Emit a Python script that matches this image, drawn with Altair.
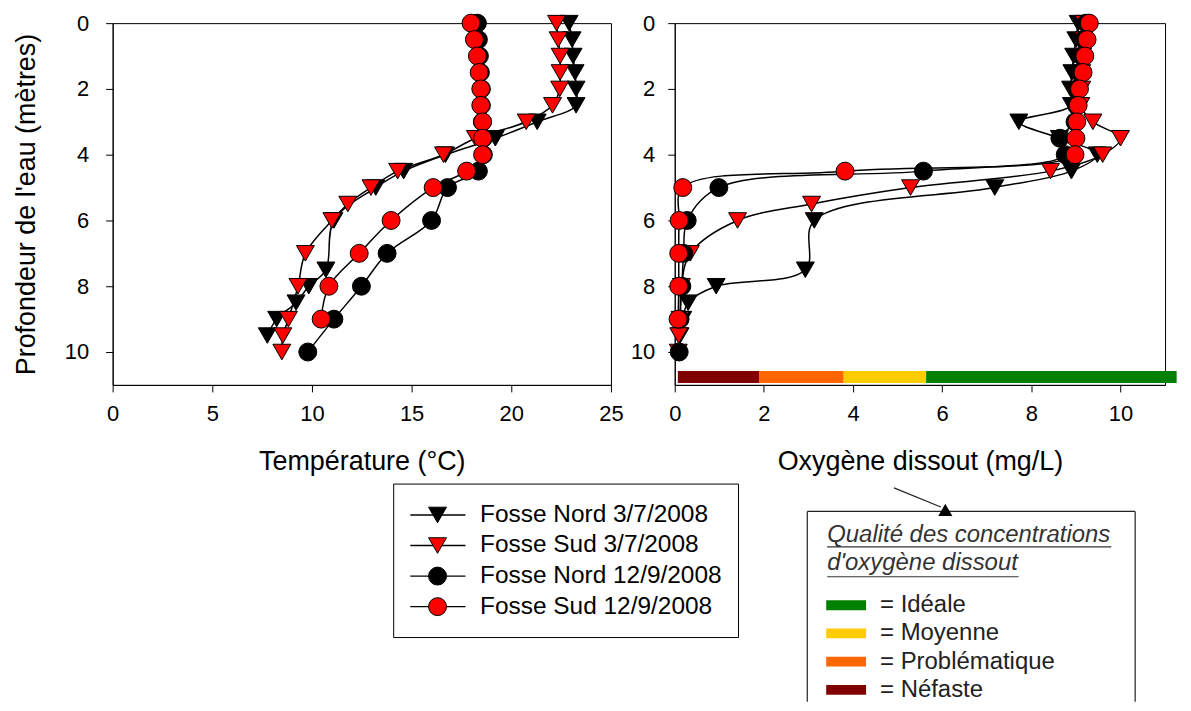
import altair as alt
import pandas as pd

# ---------------- data ----------------
series = ["Fosse Nord 3/7/2008", "Fosse Sud 3/7/2008",
          "Fosse Nord 12/9/2008", "Fosse Sud 12/9/2008"]
shapes = ["triangle-down", "triangle-down", "circle", "circle"]
fills = ["#000000", "#ff0000", "#000000", "#ff0000"]
sizes = [324, 324, 289, 289]

depth_nord_0307 = [0, 0.5, 1, 1.5, 2, 2.5, 3, 3.5, 4, 4.5, 5, 6, 7.5, 8, 8.5, 9, 9.5]
temp_nord_0307 = [22.9, 23.05, 23.1, 23.2, 23.25, 23.25, 21.3, 19.2, 16.7, 14.6, 13.2,
                  11.1, 10.7, 9.84, 9.2, 8.23, 7.76]
o2_nord_0307 = [9.05, 9.0, 8.95, 8.91, 8.88, 8.9, 7.72, 8.63, 9.48, 8.9, 7.18,
                3.13, 2.93, 0.93, 0.30, 0.18, 0.12]

depth_sud_0307 = [0, 0.5, 1, 1.5, 2, 2.5, 3, 3.5, 4, 4.5, 5, 5.5, 6, 7, 8, 9, 9.5, 10]
temp_sud_0307 = [22.27, 22.35, 22.45, 22.45, 22.43, 22.07, 20.75, 18.2, 16.6, 14.3, 12.96,
                 11.8, 11.0, 9.67, 9.3, 8.82, 8.54, 8.49]
o2_sud_0307 = [9.18, 9.18, 9.15, 9.13, 9.13, 9.11, 9.38, 10.0, 9.6, 8.43, 5.29,
               3.07, 1.41, 0.35, 0.15, 0.12, 0.09, 0.08]

depth_nord_1209 = [0, 0.5, 1, 1.5, 2, 2.5, 3, 3.5, 4, 4.5, 5, 6, 7, 8, 9, 10]
temp_nord_1209 = [18.3, 18.35, 18.4, 18.45, 18.5, 18.5, 18.55, 18.6, 18.6, 18.35, 16.8,
                  16.0, 13.77, 12.48, 11.1, 9.79]
o2_nord_1209 = [9.23, 9.18, 9.13, 9.08, 9.03, 9.01, 8.98, 8.64, 8.76, 5.58, 0.99,
                0.28, 0.2, 0.16, 0.12, 0.1]

depth_sud_1209 = [0, 0.5, 1, 1.5, 2, 2.5, 3, 3.5, 4, 4.5, 5, 6, 7, 8, 9]
temp_sud_1209 = [17.98, 18.15, 18.3, 18.39, 18.47, 18.47, 18.56, 18.56, 18.56, 17.76, 16.08,
                 13.97, 12.37, 10.85, 10.46]
o2_sud_1209 = [9.3, 9.25, 9.2, 9.16, 9.08, 9.05, 9.02, 9.0, 8.98, 3.82, 0.18,
               0.1, 0.09, 0.09, 0.075]

quality = ["Néfaste", "Problématique", "Moyenne", "Idéale"]
quality_colors = ["#800000", "#ff6600", "#ffcc00", "#008000"]
bar_start = [0.07, 1.89, 3.79, 5.64]
bar_end = [1.89, 3.79, 5.64, 11.26]
quality_legend_order = ["Idéale", "Moyenne", "Problématique", "Néfaste"]
quality_title = ["Qualité des concentrations", "d'oxygène dissout"]

temp_ticks = [0, 5, 10, 15, 20, 25]
o2_ticks = [0, 2, 4, 6, 8, 10]
depth_ticks = [0, 2, 4, 6, 8, 10]

# ---------------- tables ----------------
rows = []
for name, d, t, o in [(series[0], depth_nord_0307, temp_nord_0307, o2_nord_0307),
                      (series[1], depth_sud_0307, temp_sud_0307, o2_sud_0307),
                      (series[2], depth_nord_1209, temp_nord_1209, o2_nord_1209),
                      (series[3], depth_sud_1209, temp_sud_1209, o2_sud_1209)]:
    for i, (dd, tt, oo) in enumerate(zip(d, t, o)):
        rows.append({"serie": name, "depth": dd, "temp": tt, "o2": oo, "k": i})
df = pd.DataFrame(rows)

leg_df = pd.DataFrame({"serie": series, "row": list(range(len(series)))})
bar_df = pd.DataFrame({"q": quality, "x0": bar_start, "x1": bar_end})
qleg_df = pd.DataFrame({"q": quality_legend_order,
                        "label": ["= " + q for q in quality_legend_order],
                        "row": list(range(len(quality_legend_order)))})
one = pd.DataFrame({"a": [0]})

FONT = "Liberation Sans"
W1, W2, H = 500, 492, 363

shape_scale = alt.Scale(domain=series, range=shapes)
fill_scale = alt.Scale(domain=series, range=fills)
size_scale = alt.Scale(domain=series, range=sizes)
qcolor_scale = alt.Scale(domain=quality, range=quality_colors)
depth_scale = alt.Scale(domain=[0, 11], reverse=True, nice=False, zero=False)


def y_depth(axis_title, label_pad, with_axis=True):
    if with_axis:
        ax = alt.Axis(values=depth_ticks, title=axis_title, labelPadding=label_pad,
                      titlePadding=24, labelFlush=False)
    else:
        ax = None
    return alt.Y("depth:Q", scale=depth_scale, axis=ax)


def symbols(base, xenc, yenc):
    return base.mark_point(filled=True, stroke="black", strokeWidth=1,
                           opacity=1, fillOpacity=1).encode(
        x=xenc, y=yenc,
        shape=alt.Shape("serie:N", scale=shape_scale, legend=None),
        fill=alt.Fill("serie:N", scale=fill_scale, legend=None),
        size=alt.Size("serie:N", scale=size_scale, legend=None),
    )


def profile_panel(field, domain, ticks, xtitle, ytitle, label_pad):
    base = alt.Chart(df)
    xs = alt.Scale(domain=domain, nice=False, zero=False)
    lines = base.mark_line(color="black", strokeWidth=1.5,
                           interpolate="catmull-rom").encode(
        x=alt.X(f"{field}:Q", scale=xs,
                axis=alt.Axis(values=ticks, title=xtitle, labelFlush=False)),
        y=y_depth(ytitle, label_pad, True),
        detail="serie:N",
        order="k:Q",
    )
    pts = symbols(base, alt.X(f"{field}:Q", scale=xs), y_depth(None, 0, False))
    return lines, pts


# ---------------- left panel ----------------
lines_t, pts_t = profile_panel("temp", [0, 25], temp_ticks, "Température (°C)",
                               "Profondeur de l'eau (mètres)", 17)

row1 = alt.Y("row:Q", scale=alt.Scale(domain=[0, 3], range=[493.5, 585.5]), axis=None)
leg_box = alt.Chart(one).mark_rect(fill="white", fillOpacity=0, stroke="black",
                                   strokeWidth=1).encode(
    x=alt.value(282), x2=alt.value(628), y=alt.value(462.5), y2=alt.value(616.5))
leg_rule = alt.Chart(leg_df).mark_rule(color="black", strokeWidth=1.4).encode(
    x=alt.value(298.7), x2=alt.value(354), y=row1)
leg_pts = symbols(alt.Chart(leg_df), alt.value(326), row1)
leg_txt = alt.Chart(leg_df).mark_text(align="left", baseline="middle", fontSize=24.5,
                                      font=FONT, color="black").encode(
    x=alt.value(368.7), y=row1, text="serie:N")

left = alt.layer(lines_t, pts_t, leg_box, leg_rule, leg_pts, leg_txt).resolve_scale(
    y="independent").properties(width=W1, height=H)

# ---------------- right panel ----------------
lines_o, pts_o = profile_panel("o2", [0, 11], o2_ticks, "Oxygène dissout (mg/L)",
                               None, 13)

bar = alt.Chart(bar_df).mark_rect().encode(
    x=alt.X("x0:Q", scale=alt.Scale(domain=[0, 11], nice=False, zero=False)),
    x2="x1:Q",
    y=alt.value(349), y2=alt.value(361),
    color=alt.Color("q:N", scale=qcolor_scale, legend=None),
)

row2 = alt.Y("row:Q", scale=alt.Scale(domain=[0, 3], range=[584, 669]), axis=None)
qbox_top = alt.Chart(one).mark_rule(color="#222", strokeWidth=1.2).encode(
    x=alt.value(133), x2=alt.value(462), y=alt.value(490))
qbox_left = alt.Chart(one).mark_rule(color="#222", strokeWidth=1.2).encode(
    x=alt.value(133), y=alt.value(490), y2=alt.value(681))
qbox_right = alt.Chart(one).mark_rule(color="#222", strokeWidth=1.2).encode(
    x=alt.value(462), y=alt.value(490), y2=alt.value(681))
arrow_line = alt.Chart(one).mark_rule(color="#222", strokeWidth=1.2).encode(
    x=alt.value(220), y=alt.value(466.3), x2=alt.value(267), y2=alt.value(485.5))
arrow_head = alt.Chart(one).mark_point(shape="triangle-up", filled=True, color="black",
                                       size=200, opacity=1).encode(
    x=alt.value(271.5), y=alt.value(488.5))
qt1 = alt.Chart(one).mark_text(align="left", baseline="alphabetic", fontSize=24,
                               fontStyle="italic", font=FONT, color="#333").encode(
    x=alt.value(153), y=alt.value(521), text=alt.value(quality_title[0]))
qt2 = alt.Chart(one).mark_text(align="left", baseline="alphabetic", fontSize=24,
                               fontStyle="italic", font=FONT, color="#333").encode(
    x=alt.value(153), y=alt.value(549), text=alt.value(quality_title[1]))
ul1 = alt.Chart(one).mark_rule(color="#333", strokeWidth=1.2).encode(
    x=alt.value(153), x2=alt.value(438), y=alt.value(525.5))
ul2 = alt.Chart(one).mark_rule(color="#333", strokeWidth=1.2).encode(
    x=alt.value(153), x2=alt.value(345), y=alt.value(555.5))
q_sw = alt.Chart(qleg_df).mark_rule(strokeWidth=10, strokeCap="butt").encode(
    x=alt.value(152), x2=alt.value(192), y=row2,
    color=alt.Color("q:N", scale=qcolor_scale, legend=None))
q_txt = alt.Chart(qleg_df).mark_text(align="left", baseline="middle", fontSize=24,
                                     font=FONT, color="#222").encode(
    x=alt.value(206), y=row2, text="label:N")

right = alt.layer(lines_o, bar, pts_o, arrow_line, qbox_top, qbox_left, qbox_right,
                  arrow_head, qt1, qt2, ul1, ul2, q_sw, q_txt).resolve_scale(
    y="independent").properties(width=W2, height=H)

chart = alt.hconcat(left, right, spacing=64).properties(
    bounds="flush",
    padding={"left": 4, "top": 2, "right": 5, "bottom": 0},
).configure_view(
    stroke="black", strokeWidth=1
).configure_axis(
    grid=False, domainColor="black", tickColor="black", labelColor="black",
    titleColor="black", tickSize=7, labelFontSize=22, titleFontSize=27,
    labelFont=FONT, titleFont=FONT, titleFontWeight="normal", domainWidth=1,
    tickWidth=1,
).configure_axisX(
    labelPadding=12, titlePadding=24,
)

chart.save("out.html", embed_options={"renderer": "svg", "actions": False})
